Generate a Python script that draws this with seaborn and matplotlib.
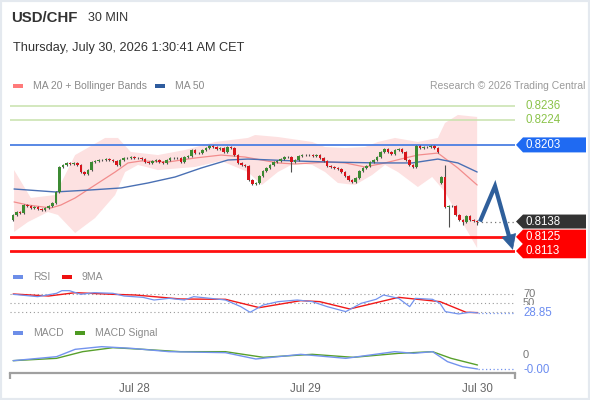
import numpy as np
import pandas as pd
import matplotlib
matplotlib.use("Agg")
import matplotlib.pyplot as plt
import matplotlib.transforms as mtransforms
from matplotlib.patches import Polygon, Rectangle
import seaborn as sns

# ---------------- data ----------------
closes = [
    0.81436, 0.81461, 0.81453, 0.81520, 0.81512, 0.81495, 0.81504, 0.81487, 0.81478, 0.81495,
    0.81512, 0.81537, 0.81631, 0.81843, 0.81860, 0.81877, 0.81868, 0.81877, 0.81860, 0.81800,
    0.81783, 0.81817, 0.81885, 0.81894, 0.81902, 0.81902, 0.81910, 0.81902, 0.81894, 0.81860,
    0.81902, 0.81919, 0.81919, 0.81927, 0.81919, 0.81919, 0.81910, 0.81885, 0.81877, 0.81894,
    0.81902, 0.81885, 0.81877, 0.81902, 0.81919, 0.81919, 0.81919, 0.81885, 0.81927, 0.81936,
    0.81987, 0.81961, 0.81961, 0.81987, 0.82004, 0.82021, 0.82012, 0.81995, 0.82004, 0.81970,
    0.82012, 0.82004, 0.81944, 0.81877, 0.81860, 0.81851, 0.81732, 0.81699, 0.81707, 0.81766,
    0.81809, 0.81834, 0.81860, 0.81885, 0.81894, 0.81910, 0.81927, 0.81927, 0.81885, 0.81902,
    0.81936, 0.81944, 0.81944, 0.81944, 0.81936, 0.81944, 0.81919, 0.81894, 0.81851, 0.81843,
    0.81834, 0.81826, 0.81800, 0.81766, 0.81732, 0.81716, 0.81749, 0.81809, 0.81834, 0.81851,
    0.81885, 0.81902, 0.81927, 0.81970, 0.81995, 0.81970, 0.81953, 0.81987, 0.81995, 0.81970,
    0.81902, 0.81860, 0.81843, 0.82021, 0.82004, 0.82012, 0.82012, 0.82021, 0.82004, 0.81970,
    0.81758, 0.81504, 0.81512, 0.81512, 0.81436, 0.81393, 0.81376, 0.81427, 0.81393, 0.81385,
    0.81380,
]
first_open = 0.81393
open_overrides = {120: 0.81707}
high_overrides = {121: 0.81860}
low_overrides = {78: 0.81800, 122: 0.81334, 126: 0.81351, 130: 0.81351}
wick = 0.00012

day_ticks = [34, 82, 130]
day_labels = ["Jul 28", "Jul 29", "Jul 30"]

bb_upper_x = [0.3, 5.0, 11.8, 17.4, 25.8, 29.4, 33.0, 40.6, 48.2, 56.6, 65.8, 67.8, 74.2,
              83.8, 87.4, 93.0, 98.6, 102.2, 107.0, 113.4, 119.0, 121.0, 124.6, 130.0]
bb_upper = [0.81817, 0.81580, 0.81605, 0.81944, 0.82089, 0.82089, 0.81970, 0.81944, 0.81987,
            0.82055, 0.82089, 0.82114, 0.82097, 0.82055, 0.82012, 0.82004, 0.82012, 0.82055,
            0.82089, 0.82055, 0.82089, 0.82216, 0.82284, 0.82267]
bb_lower_x = [0.3, 4.2, 9.8, 12.6, 17.4, 23.0, 28.6, 31.4, 35.0, 40.6, 51.0, 58.3, 65.8, 69.7,
              74.2, 79.0, 83.8, 87.4, 91.0, 95.8, 100.6, 104.2, 107.8, 113.4, 117.4, 121.0,
              124.6, 130.0]
bb_lower = [0.81292, 0.81376, 0.81461, 0.81436, 0.81283, 0.81410, 0.81605, 0.81800, 0.81860,
            0.81817, 0.81843, 0.81894, 0.81800, 0.81690, 0.81800, 0.81877, 0.81860, 0.81800,
            0.81707, 0.81690, 0.81775, 0.81860, 0.81800, 0.81673, 0.81758, 0.81631, 0.81436,
            0.81156]
ma20_x = [0.3, 4.2, 10.6, 13.4, 17.4, 23.0, 28.6, 32.2, 35.9, 43.4, 51.0, 58.3, 65.0, 74.2,
          79.0, 88.2, 93.0, 98.6, 104.2, 109.8, 113.4, 119.0, 124.6, 130.0]
ma20 = [0.81546, 0.81520, 0.81495, 0.81520, 0.81580, 0.81690, 0.81800, 0.81877, 0.81894,
        0.81885, 0.81919, 0.81944, 0.81927, 0.81877, 0.81868, 0.81885, 0.81877, 0.81843,
        0.81877, 0.81919, 0.81944, 0.81961, 0.81834, 0.81690]
ma50_x = [0.3, 11.8, 21.8, 30.3, 37.8, 45.4, 52.7, 60.2, 65.8, 79.0, 88.2, 102.2, 111.8,
          119.0, 124.6, 130.0]
ma50 = [0.81656, 0.81631, 0.81648, 0.81665, 0.81707, 0.81758, 0.81834, 0.81902, 0.81910,
        0.81894, 0.81885, 0.81877, 0.81877, 0.81910, 0.81877, 0.81800]

levels_green = [0.8236, 0.8224]
level_blue = 0.8203
levels_red = [0.8125, 0.8113]
last_price = 0.8138
forecast_prices = [0.8138, 0.8168, 0.8114]
forecast_steps = [0.8, 5.0, 10.0]

rsi_x = [0.05, 6.9, 12.2, 13.7, 15.8, 19.0, 22.7, 28.0, 31.1, 36.4, 39.5, 43.7, 48.0, 50.6,
         55.3, 59.5, 63.8, 66.4, 70.1, 74.3, 79.6, 83.8, 88.0, 93.2, 97.5, 101.7, 103.8,
         108.0, 111.1, 112.7, 117.5, 119.6, 121.1, 124.8, 128.0, 130.1]
rsi = [69.3, 64.2, 71.5, 77.3, 77.3, 69.3, 72.9, 71.5, 65.6, 62.7, 56.9, 60.5, 56.9, 64.2,
       60.5, 56.9, 42.4, 30.0, 46.0, 53.3, 56.9, 53.3, 42.4, 31.5, 49.6, 58.4, 67.8, 60.5,
       42.4, 60.5, 58.4, 49.6, 31.5, 26.4, 30.0, 28.85]
rsi_ma_x = [0.05, 10.0, 17.4, 28.0, 34.3, 46.9, 59.5, 69.0, 80.6, 85.9, 94.3, 108.0, 113.3,
            119.6, 126.9, 130.1]
rsi_ma = [70.0, 65.6, 72.9, 69.3, 67.8, 59.1, 58.4, 40.2, 55.5, 53.3, 37.3, 62.7, 58.4, 53.3,
          30.0, 29.3]
rsi_levels = [70, 50, 30]
rsi_last = 28.85

macd_x = [0.05, 12.2, 17.4, 24.8, 33.2, 43.7, 59.5, 68.0, 80.6, 93.2, 106.9, 112.2, 117.5,
          121.7, 125.9, 130.1]
macd = [-0.00017, -0.00005, 0.00017, 0.00025, 0.00020, 0.00010, 0.00007, -0.00012, 0.00002,
        -0.00010, 0.00010, 0.00005, 0.00010, -0.00020, -0.00035, -0.00042]
signal_x = [0.05, 12.2, 19.5, 28.0, 36.4, 46.9, 59.5, 70.1, 83.8, 95.3, 108.0, 117.5, 122.7,
            130.1]
signal = [-0.00017, -0.00010, 0.00010, 0.00022, 0.00017, 0.00010, 0.00010, -0.00007, 0.00002,
          -0.00007, 0.00005, 0.00010, -0.00010, -0.00030]

# ---------------- style ----------------
sns.set_theme(style="white")
plt.rcParams['font.family'] = ['Liberation Sans', 'DejaVu Sans']

W, H = 590, 400
fig = plt.figure(figsize=(W / 100, H / 100), dpi=100)
fig.patch.set_facecolor('white')


def rect(l, t, r, b):
    return [l / W, 1 - b / H, (r - l) / W, (b - t) / H]


def fx(px):
    return px / W


def fy(py):
    return 1 - py / H


XL = (-0.84, 140.6)
GREEN_C = '#3c8a33'
RED_C = '#d8141b'
TXT = '#333333'
GRAY = '#8a8a8a'

# ---------- main price panel ----------
ax = fig.add_axes(rect(10, 95, 515, 258))
ax.set_xlim(*XL)
ax.set_ylim(0.810708, 0.824533)
ax.axis('off')

n = len(closes)
idx = np.arange(n)
c = np.array(closes)
o = np.concatenate([[first_open], c[:-1]])
for k, v in open_overrides.items():
    o[k] = v
hi = np.maximum(o, c) + wick
lo = np.minimum(o, c) - wick
for k, v in high_overrides.items():
    hi[k] = v
for k, v in low_overrides.items():
    lo[k] = v

# Bollinger band
ax.fill(np.concatenate([bb_upper_x, bb_lower_x[::-1]]),
        np.concatenate([bb_upper, bb_lower[::-1]]),
        color='#fde1e1', lw=0, zorder=1)

for lv in levels_green:
    ax.axhline(lv, color='#c8e2ac', lw=1.1, zorder=2)
ax.axhline(level_blue, color='#4b7fe3', lw=1.3, zorder=2)
for lv in levels_red:
    ax.axhline(lv, color='#ff1010', lw=2.0, zorder=2)

sns.lineplot(x=ma20_x, y=ma20, ax=ax, color='#f28c8c', lw=0.9, sort=False,
             estimator=None, zorder=3)
sns.lineplot(x=ma50_x, y=ma50, ax=ax, color='#4a70b4', lw=1.0, sort=False,
             estimator=None, zorder=3)

cols = np.where(c >= o, GREEN_C, RED_C)
ax.vlines(idx, lo, hi, color='#4d4d4d', lw=0.8, zorder=4)
ax.bar(idx, np.maximum(np.abs(c - o), 0.00003), bottom=np.minimum(o, c), width=0.72,
       color=cols, linewidth=0, zorder=5)

# dotted line from last candle to label
ax.plot([idx[-1], XL[1]], [last_price, last_price], color='#777777', lw=0.9,
        ls=(0, (1, 2.5)), zorder=3)

# forecast arrow
fxs = [idx[-1] + s for s in forecast_steps]
ARROW = '#2f5f9b'
frac = 0.80
mid_x = fxs[1] + (fxs[2] - fxs[1]) * frac
mid_y = forecast_prices[1] + (forecast_prices[2] - forecast_prices[1]) * frac
ax.plot([fxs[0], fxs[1], mid_x], [forecast_prices[0], forecast_prices[1], mid_y],
        color=ARROW, lw=3.0, solid_joinstyle='miter', solid_capstyle='butt', zorder=12,
        clip_on=False)
ax.annotate('', xy=(fxs[2], forecast_prices[2]), xytext=(mid_x, mid_y),
            arrowprops=dict(arrowstyle='-|>,head_length=0.85,head_width=0.42',
                            color=ARROW, lw=0.5, mutation_scale=12, shrinkA=0, shrinkB=0),
            zorder=12, annotation_clip=False)

bt = mtransforms.blended_transform_factory(fig.transFigure, ax.transData)
PX = (0.824533 - 0.810708) / 163.0


def tag(axis, trans, y, hpx, color, text, tcol='white'):
    h = hpx * PX
    pts = [(fx(516), y), (fx(523), y + h / 2), (fx(586), y + h / 2), (fx(586), y - h / 2),
           (fx(523), y - h / 2)]
    axis.add_patch(Polygon(pts, closed=True, transform=trans, facecolor=color,
                           edgecolor='none', clip_on=False, zorder=10))
    axis.text(fx(526), y, text, transform=trans, color=tcol, fontsize=8.3, va='center',
              ha='left', zorder=11, clip_on=False)


for lv in levels_green:
    ax.text(fx(525), lv, f"{lv:.4f}", transform=bt, color='#8bc34a', fontsize=8.3,
            va='center', ha='left')
tag(ax, bt, level_blue, 15, '#1f6af2', f"{level_blue:.4f}")
tag(ax, bt, last_price, 14, '#333333', f"{last_price:.4f}")
tag(ax, bt, levels_red[0], 14.5, '#ff0000', f"{levels_red[0]:.4f}")
tag(ax, bt, levels_red[1], 14.5, '#ff0000', f"{levels_red[1]:.4f}")

# ---------- RSI panel ----------
axr = fig.add_axes(rect(10, 286, 515, 322))
axr.set_xlim(*XL)
axr.set_ylim(8.8, 87.5)
axr.axis('off')
for lv in rsi_levels:
    axr.plot(XL, [lv, lv], color='#999999', lw=0.8, ls=(0, (1, 2.5)), zorder=1)
sns.lineplot(x=rsi_ma_x, y=rsi_ma, ax=axr, color='#f01818', lw=1.0, sort=False,
             estimator=None, zorder=2)
sns.lineplot(x=rsi_x, y=rsi, ax=axr, color='#7393ee', lw=0.9, sort=False,
             estimator=None, zorder=3)
axr.plot([rsi_x[-1], XL[1]], [rsi_last, rsi_last], color='#7393ee', lw=0.9,
         ls=(0, (1, 2)), zorder=3)
btr = mtransforms.blended_transform_factory(fig.transFigure, axr.transData)
axr.text(fx(523), 70, "70", transform=btr, color='#777777', fontsize=8, va='center')
axr.text(fx(523), 50, "50", transform=btr, color='#777777', fontsize=8, va='center')
axr.text(fx(523), rsi_last - 0.5, f"{rsi_last:.2f}", transform=btr, color='#6b8cf0',
         fontsize=8.3, va='center',
         bbox=dict(facecolor='white', edgecolor='none', pad=1.2))

# ---------- MACD panel ----------
axm = fig.add_axes(rect(10, 335, 515, 373))
axm.set_xlim(*XL)
axm.set_ylim(-0.00054, 0.0006)
for s in ['top', 'left', 'right']:
    axm.spines[s].set_visible(False)
axm.spines['bottom'].set_color('#a0a0a0')
axm.spines['bottom'].set_linewidth(1.6)
sns.lineplot(x=signal_x, y=signal, ax=axm, color='#58a02c', lw=1.0, sort=False,
             estimator=None, zorder=2)
sns.lineplot(x=macd_x, y=macd, ax=axm, color='#7393ee', lw=1.0, sort=False,
             estimator=None, zorder=3)
axm.plot([macd_x[-1], XL[1]], [macd[-1], macd[-1]], color='#7393ee', lw=0.9,
         ls=(0, (1, 2)), zorder=3)
axm.set_yticks([])
axm.set_xticks(day_ticks)
axm.set_xticklabels(day_labels)
axm.set_xticks([XL[0] + 0.05, XL[1] - 0.05], minor=True)
axm.tick_params(axis='x', which='major', length=0, pad=7, labelsize=8.3,
                labelcolor='#666666')
axm.tick_params(axis='x', which='minor', length=4, width=1.6, color='#a0a0a0',
                direction='out', bottom=True)
axm.set_xlabel('')
axm.set_ylabel('')
btm = mtransforms.blended_transform_factory(fig.transFigure, axm.transData)
axm.text(fx(523), 0.0, "0", transform=btm, color='#777777', fontsize=8, va='center')
axm.text(fx(523), macd[-1] - 0.00003, "-0.00", transform=btm, color='#6b8cf0',
         fontsize=8.3, va='center',
         bbox=dict(facecolor='white', edgecolor='none', pad=1.0))

# ---------- header texts & legends ----------
fig.text(fx(11), fy(18), "USD/CHF", fontsize=10.8, fontweight='bold', color=TXT,
         va='center')
fig.text(fx(88), fy(18), "30 MIN", fontsize=9, color=TXT, va='center')
fig.text(fx(13), fy(48), "Thursday, July 30, 2026 1:30:41 AM CET", fontsize=9.2,
         color=TXT, va='center')


def legend_item(xp, yp, color, label):
    fig.add_artist(Rectangle((fx(xp), fy(yp + 2.2)), 10 / W, 4.4 / H,
                             transform=fig.transFigure, facecolor=color, edgecolor='none'))
    fig.text(fx(xp + 20), fy(yp), label, fontsize=7.5, color=GRAY, va='center')


legend_item(13, 86, '#ff7a7a', "MA 20 + Bollinger Bands")
legend_item(155, 86, '#2f5c9e', "MA 50")
fig.text(fx(585), fy(86), "Research \u00a9 2026 Trading Central", fontsize=7.5,
         color='#9a9a9a', va='center', ha='right')
legend_item(13, 277, '#6d8ee8', "RSI")
legend_item(62, 277, '#ee1111', "9MA")
legend_item(13, 333, '#6d8ee8', "MACD")
legend_item(75, 333, '#4e9a22', "MACD Signal")

fig.add_artist(Rectangle((0, 0), 1, 1, transform=fig.transFigure, fill=False,
                         edgecolor='#e4e9ef', lw=3))

fig.savefig("out.png", dpi=100, facecolor='white')
